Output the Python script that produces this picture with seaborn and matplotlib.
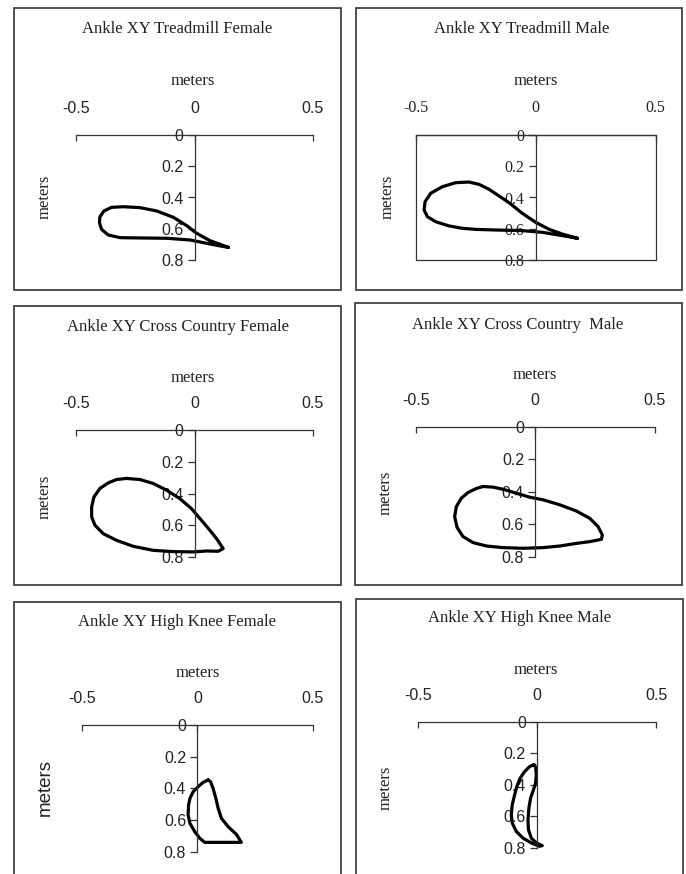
import matplotlib
matplotlib.use("Agg")
import matplotlib.pyplot as plt
import seaborn as sns
import pandas as pd
from matplotlib.patches import Rectangle

# ---------------- data ----------------
titles = ["Ankle XY Treadmill Female", "Ankle XY Treadmill Male",
          "Ankle XY Cross Country Female", "Ankle XY Cross Country  Male",
          "Ankle XY High Knee Female", "Ankle XY High Knee Male"]
axis_label = "meters"
x_ticks = [-0.5, 0, 0.5]
x_tick_labels = ["-0.5", "0", "0.5"]
y_ticks = [0, 0.2, 0.4, 0.6, 0.8]
y_tick_labels = ["0", "0.2", "0.4", "0.6", "0.8"]

treadmill_female_x = [0.143, 0.065, 0.009, -0.033, -0.089, -0.16, -0.23, -0.30, -0.35, -0.382,
                      -0.399, -0.401, -0.392, -0.364, -0.314, -0.23, -0.117, -0.019, 0.051,
                      0.108, 0.143]
treadmill_female_y = [0.719, 0.676, 0.629, 0.58, 0.527, 0.486, 0.465, 0.459, 0.463, 0.486,
                      0.523, 0.561, 0.604, 0.64, 0.657, 0.659, 0.661, 0.672, 0.693,
                      0.71, 0.719]

treadmill_male_x = [0.174, 0.111, 0.056, 0.0, -0.056, -0.111, -0.153, -0.194, -0.236, -0.278,
                    -0.333, -0.389, -0.4375, -0.461, -0.465, -0.451, -0.417, -0.361, -0.306,
                    -0.25, -0.167, -0.056, 0.028, 0.111, 0.174]
treadmill_male_y = [0.661, 0.634, 0.604, 0.559, 0.501, 0.433, 0.39, 0.348, 0.316, 0.301,
                    0.305, 0.331, 0.373, 0.427, 0.48, 0.523, 0.555, 0.582, 0.597,
                    0.604, 0.608, 0.612, 0.623, 0.644, 0.661]

cross_female_x = [-0.287, -0.230, -0.174, -0.118, -0.062, -0.013, 0.029, 0.065, 0.093, 0.121,
                  0.10, 0.051, -0.006, -0.09, -0.174, -0.258, -0.329, -0.385, -0.42,
                  -0.434, -0.434, -0.424, -0.399, -0.364, -0.329, -0.287]
cross_female_y = [0.305, 0.312, 0.337, 0.379, 0.432, 0.495, 0.568, 0.632, 0.684, 0.747,
                  0.764, 0.762, 0.768, 0.766, 0.758, 0.733, 0.695, 0.653, 0.60,
                  0.547, 0.484, 0.421, 0.368, 0.333, 0.312, 0.305]

cross_male_x = [-0.218, -0.176, -0.135, -0.079, -0.023, 0.033, 0.103, 0.172, 0.228, 0.263,
                0.281, 0.277, 0.228, 0.172, 0.103, 0.033, -0.051, -0.135, -0.204, -0.260,
                -0.302, -0.327, -0.337, -0.330, -0.309, -0.281, -0.246, -0.218]
cross_male_y = [0.367, 0.371, 0.384, 0.408, 0.433, 0.449, 0.480, 0.518, 0.563, 0.614,
                0.666, 0.693, 0.707, 0.718, 0.734, 0.744, 0.748, 0.744, 0.734, 0.713,
                0.676, 0.619, 0.553, 0.491, 0.439, 0.404, 0.379, 0.367]

highknee_female_x = [0.047, 0.057, 0.068, 0.08, 0.09, 0.104, 0.133, 0.169, 0.19, 0.155,
                     0.083, 0.032, 0.011, -0.011, -0.032, -0.04, -0.038, -0.032, -0.018,
                     0.004, 0.025, 0.047]
highknee_female_y = [0.347, 0.358, 0.40, 0.463, 0.526, 0.589, 0.642, 0.691, 0.741, 0.741,
                     0.741, 0.741, 0.716, 0.674, 0.621, 0.568, 0.505, 0.463, 0.421,
                     0.389, 0.362, 0.347]

highknee_male_x = [-0.015, -0.031, -0.052, -0.071, -0.085, -0.094, -0.104, -0.108, -0.104,
                   -0.087, -0.059, -0.024, 0.01, 0.022, -0.003, -0.024, -0.036, -0.038,
                   -0.034, -0.027, -0.015, -0.006, -0.003, -0.005, -0.010, -0.015]
highknee_male_y = [0.274, 0.284, 0.316, 0.358, 0.411, 0.463, 0.526, 0.589, 0.642,
                   0.695, 0.737, 0.768, 0.789, 0.785, 0.768, 0.737, 0.684, 0.621,
                   0.547, 0.484, 0.432, 0.389, 0.337, 0.295, 0.274, 0.274]

curves_x = [treadmill_female_x, treadmill_male_x, cross_female_x,
            cross_male_x, highknee_female_x, highknee_male_x]
curves_y = [treadmill_female_y, treadmill_male_y, cross_female_y,
            cross_male_y, highknee_female_y, highknee_male_y]

# ---------------- layout (pixels) ----------------
W, H = 686, 874
SERIF = "Liberation Serif"
SANS = "Liberation Sans"
INK = "#222222"

# frame boxes: left, top, right, bottom
frames = [(14, 8, 341, 290), (356, 8, 682, 290),
          (14, 306, 341, 585), (355, 303, 682, 585),
          (14, 602, 341, 880), (356, 599, 683, 880)]
# plot areas: left(x=-0.5), right(x=0.5), top(y=0), bottom(y=0.8)
areas = [(76, 313, 135, 260), (415.7, 655.7, 135, 260),
         (76, 313, 430, 557), (415.7, 654.7, 427, 556.7),
         (81.7, 313, 725, 851.7), (418, 656, 721.7, 848)]
title_pos = [(177.5, 29), (522, 29), (178, 327), (518, 325), (177, 622), (519.5, 618)]
xlab_pos = [(193, 81), (536, 81), (193, 378), (535, 375), (197.5, 673), (535.7, 670)]
ylab_pos = [(45, 197), (388, 197), (45, 497), (386, 493), (45, 788), (386, 788)]
tick_font = [SANS, SERIF, SANS, SANS, SANS, SANS]
ylab_font = [(SERIF, 12), (SERIF, 12), (SERIF, 12), (SERIF, 12), (SANS, 13.5), (SERIF, 12)]
boxed = [False, True, False, False, False, False]

sns.set_theme(style="white")
plt.rcParams["font.family"] = [SANS, "DejaVu Sans"]

fig = plt.figure(figsize=(W / 100, H / 100), dpi=100)


def fx(px):
    return px / W


def fy(py):
    return 1 - py / H


for i in range(6):
    l, t, r, b = frames[i]
    fig.patches.append(Rectangle((fx(l), fy(b)), fx(r) - fx(l), fy(t) - fy(b),
                                 transform=fig.transFigure, fill=False,
                                 edgecolor="#333333", linewidth=1.2))

    al, ar, at, ab = areas[i]
    ax = fig.add_axes([fx(al), fy(ab), fx(ar) - fx(al), fy(at) - fy(ab)])
    ax.patch.set_alpha(0)

    df = pd.DataFrame({"x": curves_x[i], "y": curves_y[i]})
    sns.lineplot(data=df, x="x", y="y", sort=False, estimator=None, ax=ax,
                 color="black", linewidth=2.3, solid_joinstyle="round",
                 solid_capstyle="round")

    ax.set_xlim(-0.5, 0.5)
    ax.set_ylim(0.8, 0)
    ax.set_xticks(x_ticks)
    ax.set_xticklabels(x_tick_labels)
    ax.set_yticks(y_ticks)
    ax.set_yticklabels(y_tick_labels)

    for s in ["bottom", "right"]:
        ax.spines[s].set_visible(False)
    ax.spines["left"].set_position(("data", 0))
    for s in ["top", "left"]:
        ax.spines[s].set_color("#333333")
        ax.spines[s].set_linewidth(0.9)
        ax.spines[s].set_visible(True)

    ax.xaxis.set_ticks_position("top")
    ax.xaxis.set_label_position("top")
    ax.yaxis.set_ticks_position("left")
    ax.tick_params(axis="x", direction="in", length=4, width=0.9, color="#333333",
                   pad=13.5, labelsize=11.5, labelcolor=INK)
    ax.tick_params(axis="y", direction="out", length=5, width=0.9, color="#333333",
                   pad=3, labelsize=11.5, labelcolor=INK)
    for lab in ax.get_xticklabels() + ax.get_yticklabels():
        lab.set_family(tick_font[i])

    if boxed[i]:
        ax.add_patch(Rectangle((0, 0), 1, 1, transform=ax.transAxes, fill=False,
                               edgecolor="#333333", linewidth=0.9, clip_on=False))

    ax.set_xlabel("")
    ax.set_ylabel("")
    ax.grid(False)

    tx, ty = title_pos[i]
    fig.text(fx(tx), fy(ty), titles[i], family=SERIF, fontsize=12, color=INK,
             ha="center", va="center")
    mx, my = xlab_pos[i]
    fig.text(fx(mx), fy(my), axis_label, family=SERIF, fontsize=12, color=INK,
             ha="center", va="center")
    yx, yy = ylab_pos[i]
    fam, size = ylab_font[i]
    fig.text(fx(yx), fy(yy), axis_label, family=fam, fontsize=size, color=INK,
             ha="center", va="center", rotation=90)

fig.savefig("out.png", dpi=100, facecolor="white")
